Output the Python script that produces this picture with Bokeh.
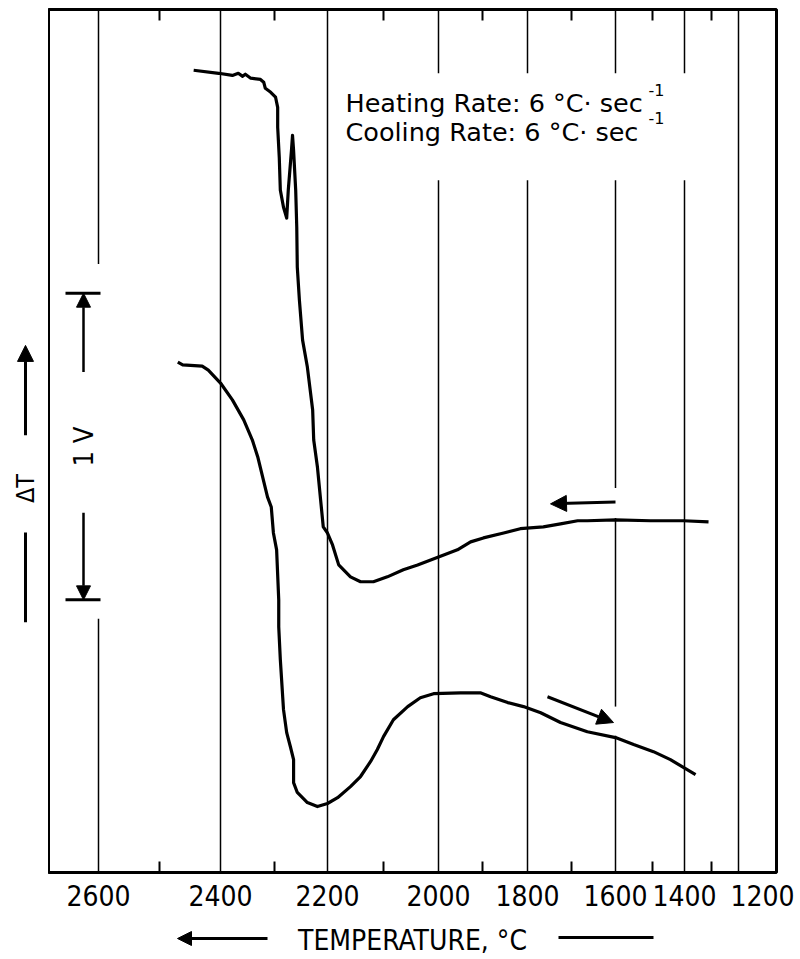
import numpy as np
from bokeh.plotting import figure
from bokeh.layouts import row, column
from bokeh.models import Range1d, FixedTicker, Arrow, NormalHead, Label
from bokeh.core.properties import value
from bokeh.embed import file_html
from bokeh.resources import INLINE

# Recorder temperature scale (non-linear): temperature (deg C) -> chart position
SCALE_T = [2600, 2500, 2400, 2300, 2200, 2100, 2000, 1900, 1800, 1700, 1600, 1500, 1400, 1300, 1200]
SCALE_POS = [0, 61, 122, 176, 229, 285, 340, 384, 429, 473, 517, 554, 586, 613, 640]

MAJOR_T = [2600, 2400, 2200, 2000, 1800, 1600, 1400, 1200]
MINOR_T = [2500, 2300, 2100, 1900, 1700, 1500, 1300]
TICK_LABELS = ["2600", "2400", "2200", "2000", "1800", "1600", "1400", "1200"]

# Heating trace: temperature (deg C), delta-T signal (V)
heating_T = [2444, 2403, 2378, 2367, 2359, 2354, 2344, 2326, 2320, 2317, 2307, 2298,
             2294, 2294, 2291, 2289, 2283, 2277, 2274, 2268, 2266, 2264, 2260, 2258,
             2257, 2253, 2247, 2238, 2228, 2226, 2219, 2213, 2208, 2200, 2191, 2180,
             2159, 2141, 2118, 2093, 2064, 2038, 2000, 1957, 1927, 1898, 1853, 1816,
             1764, 1725, 1686, 1664, 1600, 1505, 1403, 1311]
heating_dT = [2.616, 2.606, 2.599, 2.606, 2.596, 2.603, 2.590, 2.586, 2.577, 2.557, 2.544, 2.528,
              2.495, 2.430, 2.332, 2.225, 2.169, 2.134, 2.225, 2.355, 2.404, 2.355, 2.225, 2.104,
              1.974, 1.866, 1.736, 1.648, 1.508, 1.410, 1.322, 1.215, 1.127, 1.107, 1.068, 1.003,
              0.964, 0.948, 0.948, 0.964, 0.987, 1.003, 1.029, 1.052, 1.078, 1.091, 1.107, 1.121,
              1.127, 1.137, 1.147, 1.147, 1.150, 1.147, 1.147, 1.143]

# Cooling trace: temperature (deg C), delta-T signal (V)
cooling_T = [2470, 2462, 2430, 2420, 2400, 2378, 2357, 2341, 2331, 2322, 2313, 2306,
             2302, 2296, 2292, 2292, 2289, 2283, 2277, 2270, 2264, 2264, 2257, 2238,
             2219, 2200, 2182, 2159, 2141, 2123, 2111, 2100, 2082, 2056, 2033, 2009,
             1950, 1905, 1882, 1844, 1809, 1770, 1725, 1664, 1600, 1551, 1497, 1444, 1359]
cooling_dT = [1.664, 1.655, 1.651, 1.638, 1.596, 1.541, 1.476, 1.410, 1.355, 1.290, 1.225, 1.192,
              1.107, 1.052, 0.889, 0.801, 0.694, 0.531, 0.456, 0.410, 0.368, 0.293, 0.261, 0.228,
              0.215, 0.225, 0.244, 0.280, 0.313, 0.362, 0.401, 0.443, 0.498, 0.541, 0.570, 0.583,
              0.586, 0.586, 0.573, 0.554, 0.541, 0.521, 0.489, 0.459, 0.440, 0.417, 0.394, 0.368, 0.319]

# Signal scale bar: 1 V
SCALE_BAR_LOW = 0.889
SCALE_BAR_V = 1.0

X_TITLE = "TEMPERATURE, \u00b0C"
Y_TITLE = "\u0394T"
RATE_LINES = ["Heating Rate: 6 \u00b0C\u00b7 sec", "Cooling Rate: 6 \u00b0C\u00b7 sec"]

NARROW = "DejaVu Sans Condensed, DejaVu Sans"
TEXT_FONT = "DejaVu Sans"


def chart_pos(t):
    return np.interp(t, SCALE_T[::-1], SCALE_POS[::-1])


def head(size):
    return NormalHead(size=size, fill_color="black", line_color="black")


x_range = Range1d(-50, 678)
y_range = Range1d(0, 2.814)

major_pos = [int(round(float(chart_pos(t)))) for t in MAJOR_T]
minor_pos = [int(round(float(chart_pos(t)))) for t in MINOR_T]
ticker = FixedTicker(ticks=major_pos, minor_ticks=minor_pos)
overrides = {pos: lab for pos, lab in zip(major_pos, TICK_LABELS)}
overrides[major_pos[-1]] = "\u00a0" * 6 + TICK_LABELS[-1]

# ---- main chart ----
p = figure(width=752, height=915, x_range=x_range, y_range=y_range,
           output_backend="svg", toolbar_location=None, y_axis_location=None,
           min_border_left=0, min_border_right=24, min_border_top=9, min_border_bottom=42)
p.background_fill_color = "white"
p.border_fill_color = "white"
p.outline_line_color = "black"
p.outline_line_width = 3

ax = p.xaxis[0]
ax.ticker = ticker
ax.major_label_overrides = overrides
ax.axis_line_color = None
ax.major_tick_in = 0
ax.major_tick_out = 0
ax.minor_tick_in = 11
ax.minor_tick_out = 0
ax.minor_tick_line_color = "black"
ax.minor_tick_line_width = 2
ax.major_label_text_font = NARROW
ax.major_label_text_font_size = "28px"
ax.major_label_text_color = "black"
ax.major_label_standoff = 7

p.xgrid.ticker = ticker
p.xgrid.grid_line_color = "black"
p.xgrid.grid_line_width = 1.5
p.ygrid.visible = False

# minor ticks along the top edge
tick_len = 0.036
p.segment(x0=minor_pos, x1=minor_pos, y0=[y_range.end] * len(minor_pos),
          y1=[y_range.end - tick_len] * len(minor_pos), line_color="black", line_width=2)

# white patches that interrupt the grid behind the annotations
p.quad(left=[237, 442, 502, -6], right=[602, 527, 532, 6],
       bottom=[2.257, 1.156, 0.446, 0.827], top=[2.606, 1.254, 0.541, 1.984],
       fill_color="white", line_color=None)

# traces
p.line(chart_pos(heating_T), heating_dT, line_color="black", line_width=3.2, line_join="round")
p.line(chart_pos(cooling_T), cooling_dT, line_color="black", line_width=3.2, line_join="round")

# direction arrows on the traces
p.add_layout(Arrow(x_start=517, y_start=1.208, x_end=452, y_end=1.202, line_width=3, end=head(16)))
p.add_layout(Arrow(x_start=449, y_start=0.573, x_end=515, y_end=0.489, line_width=3, end=head(16)))

# 1 V scale bar
bar_top = SCALE_BAR_LOW + SCALE_BAR_V
p.segment(x0=[-33, -33], x1=[2, 2], y0=[SCALE_BAR_LOW, bar_top], y1=[SCALE_BAR_LOW, bar_top],
          line_color="black", line_width=3)
p.add_layout(Arrow(x_start=-15, y_start=bar_top - 0.257, x_end=-15, y_end=bar_top,
                   line_width=2.5, end=head(14)))
p.add_layout(Arrow(x_start=-15, y_start=SCALE_BAR_LOW + 0.284, x_end=-15, y_end=SCALE_BAR_LOW,
                   line_width=2.5, end=head(14)))
p.add_layout(Label(x=-15, y=SCALE_BAR_LOW + SCALE_BAR_V / 2, text="1 V", angle=np.pi / 2,
                   text_align="center", text_baseline="middle", text_font=NARROW,
                   text_font_size="27px", text_color="black"))

# rate annotation
for y_base, line_text in zip([2.508, 2.414], RATE_LINES):
    p.add_layout(Label(x=247, y=y_base, text=line_text, text_align="left",
                       text_baseline="alphabetic", text_font=TEXT_FONT,
                       text_font_size="25.5px", text_color="black"))
    p.add_layout(Label(x=550, y=y_base + 0.045, text="-1", text_align="left",
                       text_baseline="alphabetic", text_font=TEXT_FONT,
                       text_font_size="16px", text_color="black"))

# ---- delta-T marker strip on the left ----
left = figure(width=48, height=959, x_range=Range1d(0, 48), y_range=y_range,
              output_backend="svg", toolbar_location=None, x_axis_location=None,
              y_axis_location=None, min_border_left=0, min_border_right=0,
              min_border_top=9, min_border_bottom=86)
left.outline_line_color = None
left.grid.visible = False
left.add_layout(Arrow(x_start=25, y_start=1.427, x_end=25, y_end=1.720, line_width=3, end=head(16)))
left.segment(x0=[25], x1=[25], y0=[0.818], y1=[1.111], line_color="black", line_width=3)
left.text(x=[25], y=[1.254], text=[Y_TITLE], angle=np.pi / 2, text_align="center",
          text_baseline="middle", text_font=value(NARROW), text_font_size="25px",
          text_color="black")

# ---- temperature title strip below ----
bottom = figure(width=752, height=44, x_range=x_range, y_range=Range1d(0, 44),
                output_backend="svg", toolbar_location=None, x_axis_location=None,
                y_axis_location=None, min_border_left=0, min_border_right=24,
                min_border_top=0, min_border_bottom=0)
bottom.outline_line_color = None
bottom.grid.visible = False
bottom.text(x=[(x_range.start + x_range.end) / 2], y=[19], text=[X_TITLE], text_align="center",
            text_baseline="middle", text_font=value(NARROW), text_font_size="28px",
            text_color="black")
bottom.add_layout(Arrow(x_start=169, y_start=21, x_end=79, y_end=21, line_width=3, end=head(14)))
bottom.segment(x0=[460], x1=[555], y0=[22], y1=[22], line_color="black", line_width=3)

layout = row(left, column(p, bottom, spacing=0), spacing=0)
open("out.html", "w").write(file_html(layout, INLINE))
